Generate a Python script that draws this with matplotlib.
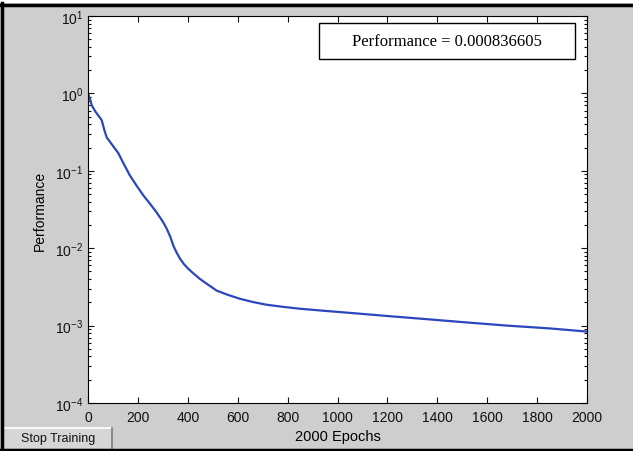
import matplotlib
matplotlib.use("Agg")
import matplotlib.pyplot as plt
from matplotlib.patches import Rectangle
from matplotlib.lines import Line2D
from matplotlib.ticker import LogLocator, NullFormatter

plt.rcParams['font.family'] = ['Liberation Sans', 'DejaVu Sans']
plt.rcParams['mathtext.fontset'] = 'custom'
plt.rcParams['mathtext.rm'] = 'Liberation Sans'

epochs = [0, 8, 15, 30, 45, 55, 65, 75, 100, 121, 145, 168, 195, 222, 250, 275, 300,
          315, 330, 342, 355, 369, 385, 400, 420, 449, 480, 515, 560, 609, 660,
          716, 780, 850, 950, 1050, 1200, 1345, 1500, 1679, 1850, 2000]
performance = [1.0, 0.85, 0.70, 0.58, 0.50, 0.45, 0.34, 0.27, 0.21, 0.17, 0.12, 0.087,
               0.064, 0.048, 0.037, 0.029, 0.022, 0.018, 0.014, 0.0108, 0.0088,
               0.0073, 0.0062, 0.0055, 0.0048, 0.0040, 0.0034, 0.00284, 0.0025,
               0.00222, 0.00202, 0.00186, 0.00175, 0.00165, 0.00155, 0.00146,
               0.00133, 0.00122, 0.00111, 0.00100, 0.00092, 0.000837]
x_ticks = [0, 200, 400, 600, 800, 1000, 1200, 1400, 1600, 1800, 2000]
annotation = "Performance = 0.000836605"
x_label = "2000 Epochs"
y_label = "Performance"
button_label = "Stop Training"

W, H = 633, 452
fig = plt.figure(figsize=(W / 100, H / 100), dpi=100)
bg = '#cecece'
fig.patch.set_facecolor(bg)

ax = fig.add_axes([88 / W, 1 - 404 / H, (587 - 88) / W, (404 - 17) / H])
ax.set_facecolor('white')
ax.plot(epochs, performance, color='#2b47bd', lw=1.6)
ax.set_yscale('log')
ax.set_xlim(0, 2000)
ax.set_ylim(1e-4, 1e1)
ax.set_xticks(x_ticks)
ax.yaxis.set_major_locator(LogLocator(base=10, numticks=10))
ax.yaxis.set_minor_locator(LogLocator(base=10, subs=range(2, 10), numticks=20))
ax.yaxis.set_minor_formatter(NullFormatter())
ax.tick_params(which='both', direction='in', top=True, right=True, labelsize=10,
               colors='#111111', width=0.8)
ax.tick_params(axis='x', which='major', length=4, pad=5)
ax.tick_params(axis='y', which='major', length=4, pad=3.5)
ax.tick_params(which='minor', length=2)
for s in ax.spines.values():
    s.set_linewidth(0.8)

ax.set_xlabel(x_label, fontsize=10.5, labelpad=4)
ax.set_ylabel(y_label, fontsize=10, labelpad=6)

# annotation box
ax.add_patch(Rectangle((0.463, 0.889), 0.976 - 0.463, 0.982 - 0.889,
                       transform=ax.transAxes, facecolor='white',
                       edgecolor='black', lw=1, zorder=5))
ax.text(0.719, 0.935, annotation, transform=ax.transAxes, ha='center', va='center',
        fontsize=12, family=['Liberation Serif'], zorder=6)

# button
def px(x, y):
    return x / W, 1 - y / H

bx0, by0, bx1, by1 = 2, 429, 112, 449
fig.patches.append(Rectangle(px(bx0, by1), (bx1 - bx0) / W, (by1 - by0) / H,
                             transform=fig.transFigure, facecolor='#d6d6d6',
                             edgecolor='none'))
fig.lines.append(Line2D([bx0 / W, bx1 / W], [1 - by0 / H, 1 - by0 / H],
                        transform=fig.transFigure, color='white', lw=1.2))
fig.lines.append(Line2D([bx1 / W, bx1 / W], [1 - by0 / H, 1 - by1 / H],
                        transform=fig.transFigure, color='#7a7a7a', lw=1.2))
fig.text((bx0 + bx1) / 2 / W + 1 / W, 1 - (by0 + by1 + 1) / 2 / H, button_label,
         ha='center', va='center', fontsize=9, color='#111111')

# outer black frame
fig.lines.append(Line2D([0, 1], [1 - 5.5 / H, 1 - 5.5 / H], transform=fig.transFigure,
                        color='black', lw=2.5))
fig.lines.append(Line2D([0, 1], [1.5 / H, 1.5 / H], transform=fig.transFigure,
                        color='black', lw=2.5))
fig.lines.append(Line2D([1.5 / W, 1.5 / W], [0, 1 - 4 / H], transform=fig.transFigure,
                        color='black', lw=2.5))
fig.patches.append(Rectangle((0, 1 - 4 / H), 1, 4 / H, transform=fig.transFigure,
                             facecolor='white', edgecolor='none'))

fig.savefig('out.png', dpi=100, facecolor=fig.get_facecolor())
